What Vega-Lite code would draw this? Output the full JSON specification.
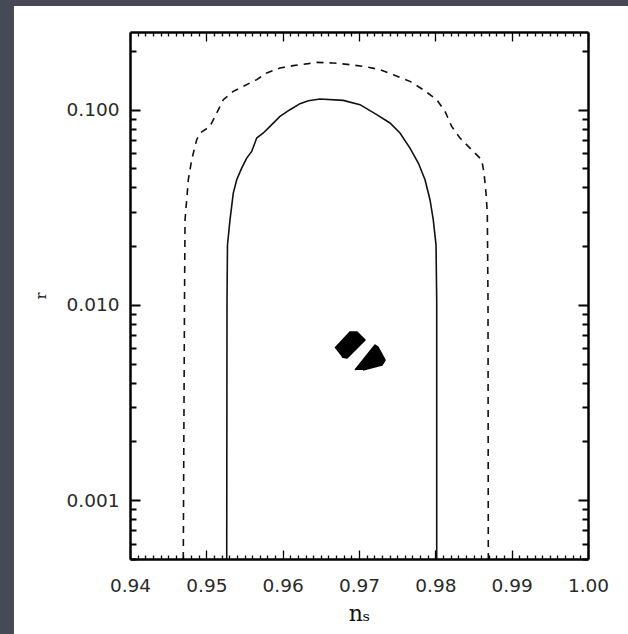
{
  "$schema": "https://vega.github.io/schema/vega-lite/v6.json",
  "width": 458,
  "height": 527,
  "autosize": {"type": "none"},
  "padding": {"left": 130, "top": 32, "right": 40, "bottom": 75},
  "background": "#464a56",
  "config": {
    "view": {"stroke": null},
    "axis": {
      "domain": true,
      "domainColor": "#000000",
      "domainWidth": 2.5,
      "grid": false,
      "ticks": true,
      "tickColor": "#000000",
      "labelFont": "DejaVu Sans",
      "labelFontSize": 18.5,
      "labelColor": "#2a2a2a",
      "labelFlush": false,
      "labelOverlap": false,
      "titleFont": "DejaVu Serif",
      "titleColor": "#111111",
      "titleFontWeight": "normal"
    }
  },
  "datasets": {
    "contours": [
      {"level": "inner", "i": 0, "ns": 0.95267, "r": 0.0005},
      {"level": "inner", "i": 1, "ns": 0.95271, "r": 0.0106},
      {"level": "inner", "i": 2, "ns": 0.95277, "r": 0.0203},
      {"level": "inner", "i": 3, "ns": 0.9531, "r": 0.0273},
      {"level": "inner", "i": 4, "ns": 0.95353, "r": 0.0374},
      {"level": "inner", "i": 5, "ns": 0.95398, "r": 0.0438},
      {"level": "inner", "i": 6, "ns": 0.95463, "r": 0.0502},
      {"level": "inner", "i": 7, "ns": 0.95529, "r": 0.0565},
      {"level": "inner", "i": 8, "ns": 0.95594, "r": 0.0611},
      {"level": "inner", "i": 9, "ns": 0.9566, "r": 0.0716},
      {"level": "inner", "i": 10, "ns": 0.95746, "r": 0.076},
      {"level": "inner", "i": 11, "ns": 0.95834, "r": 0.0821},
      {"level": "inner", "i": 12, "ns": 0.95965, "r": 0.0924},
      {"level": "inner", "i": 13, "ns": 0.96096, "r": 0.1},
      {"level": "inner", "i": 14, "ns": 0.96227, "r": 0.1074},
      {"level": "inner", "i": 15, "ns": 0.96336, "r": 0.1112},
      {"level": "inner", "i": 16, "ns": 0.96489, "r": 0.1135},
      {"level": "inner", "i": 17, "ns": 0.96794, "r": 0.1116},
      {"level": "inner", "i": 18, "ns": 0.97013, "r": 0.1061},
      {"level": "inner", "i": 19, "ns": 0.97232, "r": 0.0943},
      {"level": "inner", "i": 20, "ns": 0.97406, "r": 0.0855},
      {"level": "inner", "i": 21, "ns": 0.97537, "r": 0.076},
      {"level": "inner", "i": 22, "ns": 0.97668, "r": 0.0636},
      {"level": "inner", "i": 23, "ns": 0.97777, "r": 0.0533},
      {"level": "inner", "i": 24, "ns": 0.97865, "r": 0.0438},
      {"level": "inner", "i": 25, "ns": 0.9793, "r": 0.0346},
      {"level": "inner", "i": 26, "ns": 0.97973, "r": 0.0273},
      {"level": "inner", "i": 27, "ns": 0.98009, "r": 0.0203},
      {"level": "inner", "i": 28, "ns": 0.98018, "r": 0.0106},
      {"level": "inner", "i": 29, "ns": 0.98018, "r": 0.0005},
      {"level": "outer", "i": 0, "ns": 0.94698, "r": 0.0005},
      {"level": "outer", "i": 1, "ns": 0.94714, "r": 0.0106},
      {"level": "outer", "i": 2, "ns": 0.94721, "r": 0.0273},
      {"level": "outer", "i": 3, "ns": 0.94743, "r": 0.0346},
      {"level": "outer", "i": 4, "ns": 0.94764, "r": 0.0438},
      {"level": "outer", "i": 5, "ns": 0.94808, "r": 0.0554},
      {"level": "outer", "i": 6, "ns": 0.94874, "r": 0.0702},
      {"level": "outer", "i": 7, "ns": 0.94917, "r": 0.076},
      {"level": "outer", "i": 8, "ns": 0.95048, "r": 0.0821},
      {"level": "outer", "i": 9, "ns": 0.95136, "r": 0.0962},
      {"level": "outer", "i": 10, "ns": 0.95222, "r": 0.1125},
      {"level": "outer", "i": 11, "ns": 0.95353, "r": 0.1241},
      {"level": "outer", "i": 12, "ns": 0.95484, "r": 0.1317},
      {"level": "outer", "i": 13, "ns": 0.9566, "r": 0.1425},
      {"level": "outer", "i": 14, "ns": 0.95791, "r": 0.1542},
      {"level": "outer", "i": 15, "ns": 0.95965, "r": 0.1636},
      {"level": "outer", "i": 16, "ns": 0.96139, "r": 0.1681},
      {"level": "outer", "i": 17, "ns": 0.96336, "r": 0.1721},
      {"level": "outer", "i": 18, "ns": 0.96446, "r": 0.1748},
      {"level": "outer", "i": 19, "ns": 0.96663, "r": 0.1735},
      {"level": "outer", "i": 20, "ns": 0.96882, "r": 0.1701},
      {"level": "outer", "i": 21, "ns": 0.97101, "r": 0.1656},
      {"level": "outer", "i": 22, "ns": 0.97275, "r": 0.1604},
      {"level": "outer", "i": 23, "ns": 0.97449, "r": 0.1512},
      {"level": "outer", "i": 24, "ns": 0.97668, "r": 0.1397},
      {"level": "outer", "i": 25, "ns": 0.97842, "r": 0.1266},
      {"level": "outer", "i": 26, "ns": 0.98018, "r": 0.1125},
      {"level": "outer", "i": 27, "ns": 0.98127, "r": 0.098},
      {"level": "outer", "i": 28, "ns": 0.98214, "r": 0.0821},
      {"level": "outer", "i": 29, "ns": 0.98323, "r": 0.0716},
      {"level": "outer", "i": 30, "ns": 0.98497, "r": 0.0611},
      {"level": "outer", "i": 31, "ns": 0.98607, "r": 0.0554},
      {"level": "outer", "i": 32, "ns": 0.98638, "r": 0.0474},
      {"level": "outer", "i": 33, "ns": 0.98664, "r": 0.0374},
      {"level": "outer", "i": 34, "ns": 0.98681, "r": 0.0295},
      {"level": "outer", "i": 35, "ns": 0.9869, "r": 0.0106},
      {"level": "outer", "i": 36, "ns": 0.98694, "r": 0.0005}
    ],
    "peaks": [
      {"blob": "a", "i": 0, "ns": 0.96686, "r": 0.006018},
      {"blob": "a", "i": 1, "ns": 0.96882, "r": 0.00727},
      {"blob": "a", "i": 2, "ns": 0.96974, "r": 0.00727},
      {"blob": "a", "i": 3, "ns": 0.97079, "r": 0.006615},
      {"blob": "a", "i": 4, "ns": 0.96843, "r": 0.005349},
      {"blob": "a", "i": 5, "ns": 0.96777, "r": 0.005412},
      {"blob": "b", "i": 0, "ns": 0.96948, "r": 0.004642},
      {"blob": "b", "i": 1, "ns": 0.9721, "r": 0.006236},
      {"blob": "b", "i": 2, "ns": 0.97249, "r": 0.00609},
      {"blob": "b", "i": 3, "ns": 0.97341, "r": 0.005223},
      {"blob": "b", "i": 4, "ns": 0.97301, "r": 0.004925},
      {"blob": "b", "i": 5, "ns": 0.97052, "r": 0.004642}
    ]
  },
  "layer": [
    {
      "description": "white page behind the figure",
      "data": {"values": [{}]},
      "mark": {"type": "rect", "color": "#ffffff", "clip": false, "zindex": 0},
      "encoding": {
        "x": {"datum": 0.9248, "type": "quantitative", "scale": {"domain": [0.94, 1.0], "nice": false, "zero": false}, "axis": null},
        "x2": {"datum": 1.02},
        "y": {"datum": 0.34, "type": "quantitative", "scale": {"type": "log", "domain": [0.0005, 0.25], "nice": false}, "axis": null},
        "y2": {"datum": 0.0001}
      }
    },
    {
      "data": {"name": "contours"},
      "transform": [{"filter": "datum.level === 'outer'"}],
      "mark": {"type": "line", "color": "#111111", "strokeWidth": 1.6, "strokeDash": [7, 6], "clip": true},
      "encoding": {
        "order": {"field": "i", "type": "quantitative"},
        "x": {
          "field": "ns", "type": "quantitative",
          "scale": {"domain": [0.94, 1.0], "nice": false, "zero": false},
          "axis": {
            "orient": "bottom",
            "zindex": 2,
            "title": "nₛ",
            "titleFontSize": 22,
            "titlePadding": 4,
            "values": [0.94,0.941,0.942,0.943,0.944,0.945,0.946,0.947,0.948,0.949,0.95,0.951,0.952,0.953,0.954,0.955,0.956,0.957,0.958,0.959,0.96,0.961,0.962,0.963,0.964,0.965,0.966,0.967,0.968,0.969,0.97,0.971,0.972,0.973,0.974,0.975,0.976,0.977,0.978,0.979,0.98,0.981,0.982,0.983,0.984,0.985,0.986,0.987,0.988,0.989,0.99,0.991,0.992,0.993,0.994,0.995,0.996,0.997,0.998,0.999,1.0],
            "tickSize": {"condition": {"test": "abs(datum.value*100 - round(datum.value*100)) < 0.01", "value": -9}, "value": -4},
            "tickWidth": 1.3,
            "labelExpr": "abs(datum.value*100 - round(datum.value*100)) < 0.01 ? format(datum.value, '.2f') : ''",
            "labelPadding": 26
          }
        },
        "y": {
          "field": "r", "type": "quantitative",
          "scale": {"type": "log", "domain": [0.0005, 0.25], "nice": false},
          "axis": {
            "orient": "left",
            "zindex": 2,
            "title": "r",
            "titleFontSize": 14,
            "titlePadding": 18,
            "values": [0.0005,0.0006,0.0007,0.0008,0.0009,0.001,0.002,0.003,0.004,0.005,0.006,0.007,0.008,0.009,0.01,0.02,0.03,0.04,0.05,0.06,0.07,0.08,0.09,0.1,0.2],
            "tickSize": {"condition": {"test": "abs(log(datum.value)/LN10 - round(log(datum.value)/LN10)) < 0.001", "value": -10}, "value": -6},
            "tickWidth": 2,
            "labelExpr": "abs(log(datum.value)/LN10 - round(log(datum.value)/LN10)) < 0.001 ? format(datum.value, '.3f') : ''",
            "labelPadding": 21
          }
        }
      }
    },
    {
      "data": {"name": "contours"},
      "transform": [{"filter": "datum.level === 'inner'"}],
      "mark": {"type": "line", "color": "#111111", "strokeWidth": 1.6, "clip": true},
      "encoding": {
        "order": {"field": "i", "type": "quantitative"},
        "x": {
          "field": "ns", "type": "quantitative",
          "scale": {"domain": [0.94, 1.0], "nice": false, "zero": false},
          "axis": {
            "orient": "top",
            "zindex": 2,
            "title": null,
            "labels": false,
            "values": [0.94,0.941,0.942,0.943,0.944,0.945,0.946,0.947,0.948,0.949,0.95,0.951,0.952,0.953,0.954,0.955,0.956,0.957,0.958,0.959,0.96,0.961,0.962,0.963,0.964,0.965,0.966,0.967,0.968,0.969,0.97,0.971,0.972,0.973,0.974,0.975,0.976,0.977,0.978,0.979,0.98,0.981,0.982,0.983,0.984,0.985,0.986,0.987,0.988,0.989,0.99,0.991,0.992,0.993,0.994,0.995,0.996,0.997,0.998,0.999,1.0],
            "tickSize": {"condition": {"test": "abs(datum.value*100 - round(datum.value*100)) < 0.01", "value": -9}, "value": -4},
            "tickWidth": 1.3
          }
        },
        "y": {
          "field": "r", "type": "quantitative",
          "scale": {"type": "log", "domain": [0.0005, 0.25], "nice": false},
          "axis": {
            "orient": "right",
            "zindex": 2,
            "title": null,
            "labels": false,
            "values": [0.0005,0.0006,0.0007,0.0008,0.0009,0.001,0.002,0.003,0.004,0.005,0.006,0.007,0.008,0.009,0.01,0.02,0.03,0.04,0.05,0.06,0.07,0.08,0.09,0.1,0.2],
            "tickSize": {"condition": {"test": "abs(log(datum.value)/LN10 - round(log(datum.value)/LN10)) < 0.001", "value": -10}, "value": -6},
            "tickWidth": 2
          }
        }
      }
    },
    {
      "data": {"name": "peaks"},
      "mark": {"type": "line", "color": "#000000", "fill": "#000000", "strokeWidth": 1.5, "strokeJoin": "round"},
      "encoding": {
        "detail": {"field": "blob", "type": "nominal"},
        "order": {"field": "i", "type": "quantitative"},
        "x": {"field": "ns", "type": "quantitative", "scale": {"domain": [0.94, 1.0], "nice": false, "zero": false}, "axis": null},
        "y": {"field": "r", "type": "quantitative", "scale": {"type": "log", "domain": [0.0005, 0.25], "nice": false}, "axis": null}
      }
    }
  ],
  "resolve": {"axis": {"x": "independent", "y": "independent"}}
}
